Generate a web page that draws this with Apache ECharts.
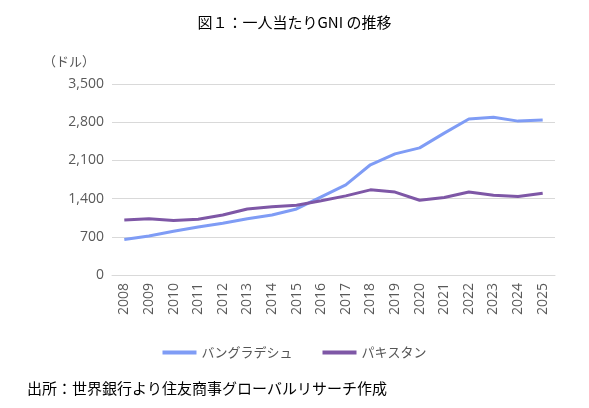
<!DOCTYPE html>
<html><head><meta charset="utf-8">
<script src="https://cdn.jsdelivr.net/npm/echarts@6/dist/echarts.min.js"></script>
<style>body{margin:0}#c{width:589px;height:408px}</style></head>
<body><div id="c"></div>
<script>
const years=['2008','2009','2010','2011','2012','2013','2014','2015','2016','2017','2018','2019','2020','2021','2022','2023','2024','2025'];
const bangladesh=[650,715,800,880,950,1030,1100,1210,1430,1650,2020,2220,2330,2600,2860,2890,2820,2840];
const pakistan=[1008,1030,1000,1020,1100,1210,1250,1280,1360,1450,1560,1520,1370,1420,1520,1460,1440,1500];
const font='"Noto Sans CJK JP","Noto Sans",sans-serif';
const ch=echarts.init(document.getElementById('c'));
ch.setOption({
 textStyle:{fontFamily:font},
 title:[{text:'図１：一人当たりGNI の推移',left:'center',top:10,textStyle:{fontSize:15,fontWeight:'normal',color:'#000',fontFamily:font}},
  {text:'（ドル）',left:38,top:50,textStyle:{fontSize:13,fontWeight:'normal',color:'#555',fontFamily:font}},
  {text:'出所：世界銀行より住友商事グローバルリサーチ作成',left:22,top:376,textStyle:{fontSize:15,fontWeight:'normal',color:'#000',fontFamily:font}}],
 grid:{left:112,right:34,top:84,bottom:133},
 legend:{top:341,left:'center',itemWidth:34,itemHeight:4,icon:'rect',itemGap:30,textStyle:{fontSize:13,color:'#555'},data:['バングラデシュ','パキスタン']},
 xAxis:{type:'category',data:years,boundaryGap:true,axisTick:{show:false},axisLine:{lineStyle:{color:'#d9d9d9'}},axisLabel:{rotate:90,color:'#595959',fontSize:14,fontFamily:'"Open Sans",sans-serif'}},
 yAxis:{type:'value',min:0,max:3500,interval:700,axisLabel:{color:'#595959',fontSize:14,fontFamily:'"Open Sans",sans-serif',formatter:v=>v.toLocaleString('en-US')},splitLine:{lineStyle:{color:'#d9d9d9'}}},
 series:[
  {name:'バングラデシュ',type:'line',data:bangladesh,symbol:'none',lineStyle:{width:3,color:'#7f9cf5'},itemStyle:{color:'#7f9cf5'}},
  {name:'パキスタン',type:'line',data:pakistan,symbol:'none',lineStyle:{width:3,color:'#7e57a6'},itemStyle:{color:'#7e57a6'}}]
});
</script></body></html>
